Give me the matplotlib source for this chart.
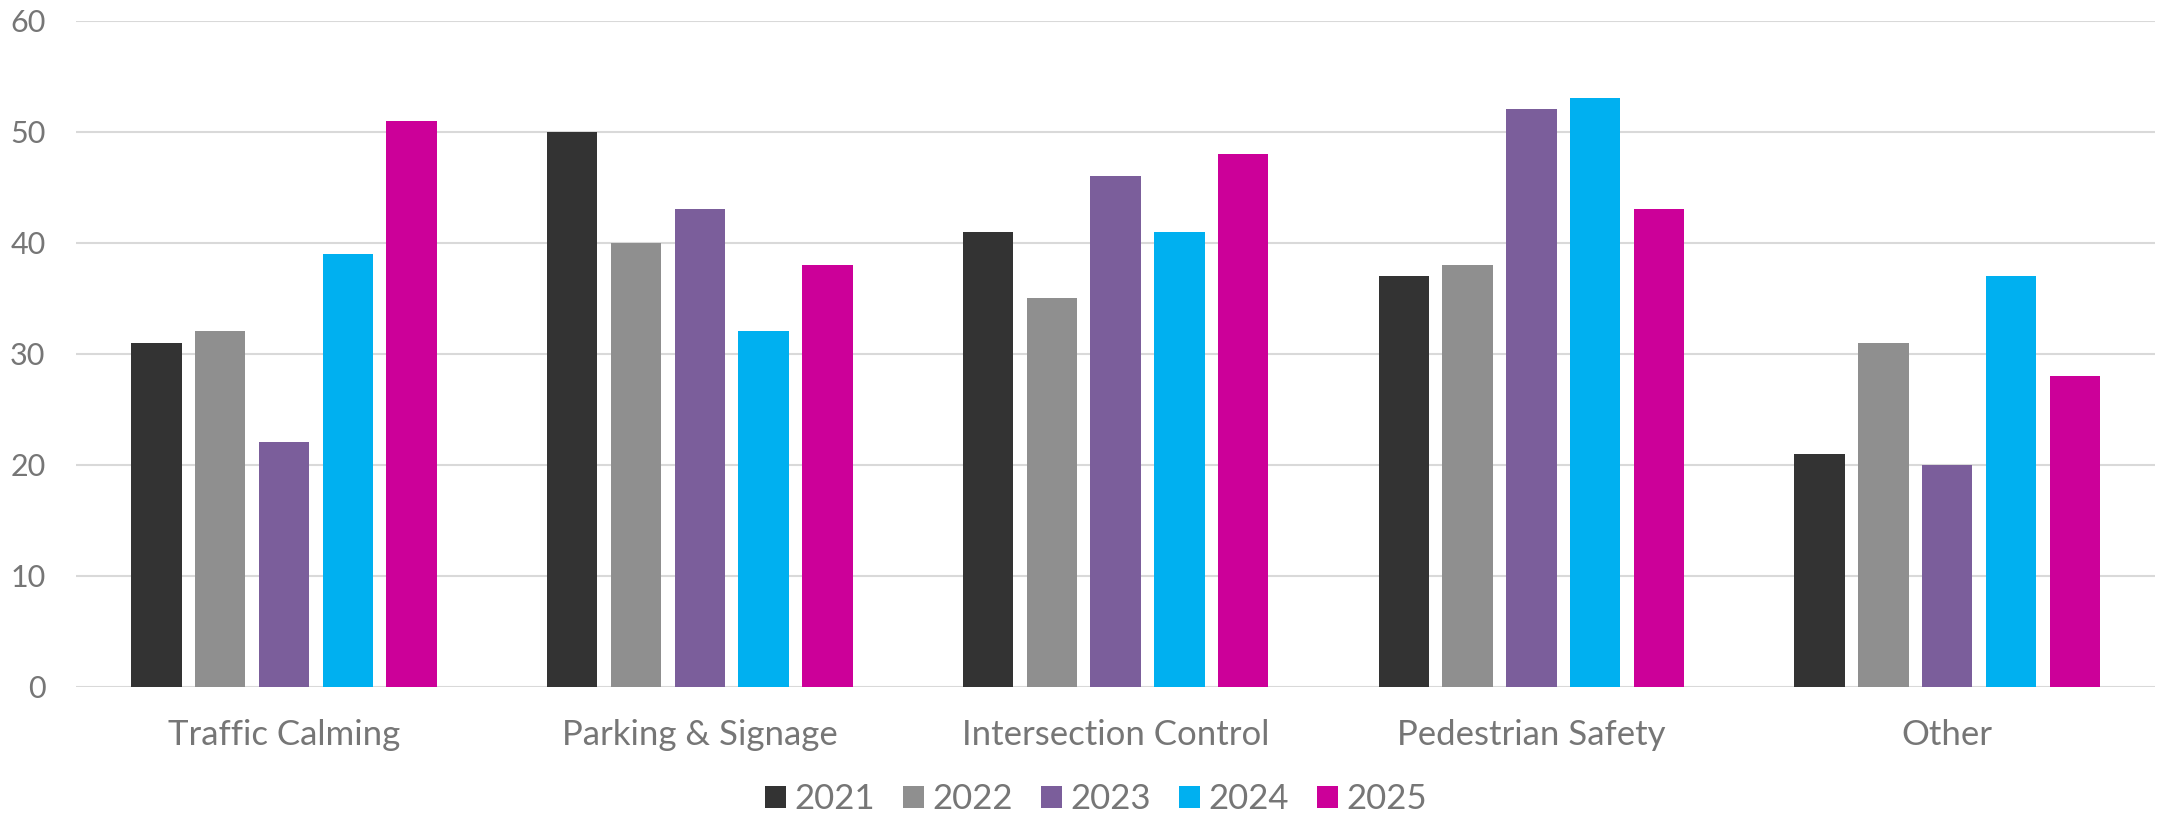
import numpy as np
import matplotlib
matplotlib.use('Agg')
import matplotlib.pyplot as plt

categories = ['Traffic Calming', 'Parking & Signage', 'Intersection Control', 'Pedestrian Safety', 'Other']
years = ['2021', '2022', '2023', '2024', '2025']
v2021 = [31, 50, 41, 37, 21]
v2022 = [32, 40, 35, 38, 31]
v2023 = [22, 43, 46, 52, 20]
v2024 = [39, 32, 41, 53, 37]
v2025 = [51, 38, 48, 43, 28]
colors = ['#333333', '#8f8f8f', '#7b5e9b', '#00b0f0', '#cc0099']

plt.rcParams['font.family'] = ['Lato', 'DejaVu Sans']
txt = '#767676'

fig = plt.figure(figsize=(21.62, 8.17), dpi=100)
ax = fig.add_axes([0.0352, 0.1595, 0.9616, 0.8152])

x = np.arange(len(categories))
w = 0.121
step = 0.1535
series = [v2021, v2022, v2023, v2024, v2025]
for k, vals in enumerate(series):
    ax.bar(x + (k - 2) * step, vals, width=w, color=colors[k], label=years[k], zorder=3)

ax.set_xlim(-0.5, len(categories) - 0.5)
ax.set_ylim(0, 60)
ax.set_yticks(range(0, 61, 10))
ax.yaxis.grid(True, color='#d9d9d9', linewidth=1.5, zorder=0)
ax.set_axisbelow(True)
for s in ax.spines.values():
    s.set_visible(False)
ax.set_xticks(x)
ax.set_xticklabels(categories)
ax.tick_params(axis='y', length=0, pad=22, labelsize=22, labelcolor=txt)
ax.tick_params(axis='x', length=0, pad=23, labelsize=25, labelcolor=txt)

leg = fig.legend(loc='center', bbox_to_anchor=(0.507, 0.022), ncol=5, frameon=False,
                 fontsize=25, labelcolor=txt, handlelength=0.6, handleheight=0.6,
                 handletextpad=0.25, columnspacing=0.8)

fig.savefig('out.png', dpi=100)
